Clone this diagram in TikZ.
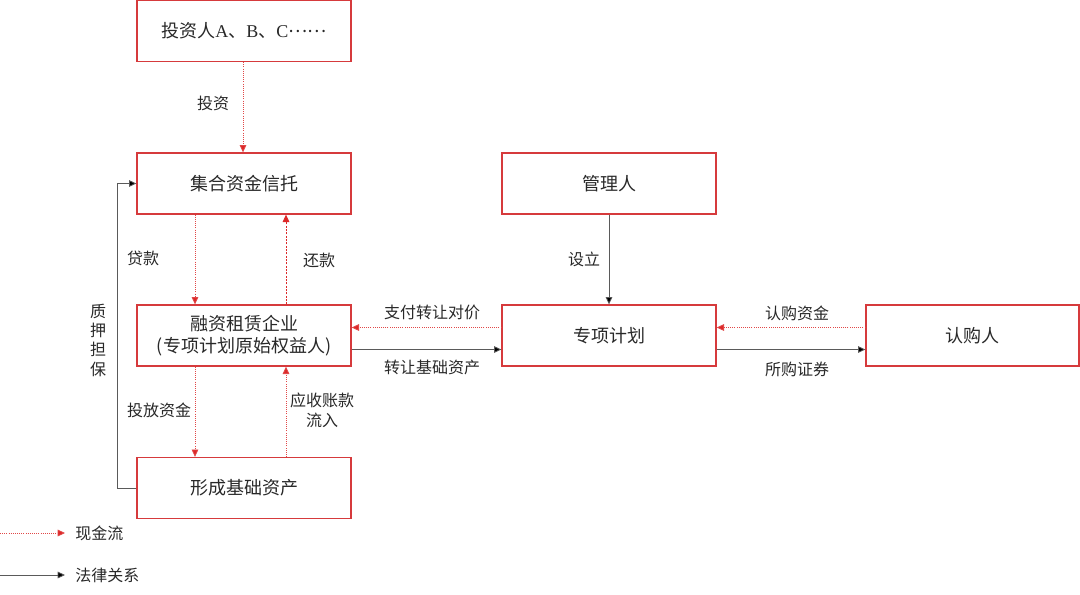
\documentclass[tikz,border=0pt]{standalone}
\usepackage{fontspec}
\setmainfont{Noto Sans CJK SC}
\newfontfamily\latinserif{Liberation Serif}
\usetikzlibrary{arrows.meta}
\definecolor{boxred}{RGB}{214,58,60}
\definecolor{flowred}{RGB}{220,40,40}
\definecolor{txt}{RGB}{40,40,40}
\definecolor{legal}{RGB}{90,90,90}
\tikzset{
  box/.style={draw=boxred, line width=1pt, minimum width=214*0.75pt, minimum height=61*0.75pt, inner sep=0pt, font=\fontsize{13.5}{17}\selectfont, text=txt, align=center},
  cash/.style={draw=flowred!85, line width=0.6pt, densely dotted, -{Triangle[length=5.5pt,width=5pt,fill=flowred]}},
  cashd/.style={draw=flowred, line width=0.6pt, dash pattern=on 1.5pt off 1pt, -{Triangle[length=5.5pt,width=5pt,fill=flowred]}},
  law/.style={draw=legal, line width=0.6pt, -{Triangle[length=5.5pt,width=5pt,fill=black]}},
  lbl/.style={font=\fontsize{12}{15}\selectfont, text=txt, align=center, inner sep=0pt}
}
\begin{document}
\begin{tikzpicture}[x=0.75pt,y=-0.75pt]
\useasboundingbox (0,0) rectangle (1080,594);
\node[box] (inv) at (244,31) {投资人{\latinserif A}、{\latinserif B}、{\latinserif C}\raisebox{0.3em}{……}};
\node[box] (trust) at (244,183.5) {集合资金信托};
\node[box] (lease) at (244,335.5) {融资租赁企业\\(专项计划原始权益人)};
\node[box] (asset) at (244,488) {形成基础资产};
\node[box] (mgr) at (609,183.5) {管理人};
\node[box] (plan) at (609,335.5) {专项计划};
\node[box, minimum width=213*0.75pt] (sub) at (972.5,335.5) {认购人};

% vertical flows
\draw[cash] (inv.south) ++(-1,0) coordinate (a1) -- (a1 |- trust.north);
\node[lbl] (l1) at (213,103) {投资};
\draw[cash] (trust.south) ++(-49,0) coordinate (a2) -- (a2 |- lease.north);
\node[lbl] (l2) at (143,258) {贷款};
\draw[cashd] (lease.north) ++(42,0) coordinate (a3) -- (a3 |- trust.south);
\node[lbl] (l3) at (319,260) {还款};
\draw[cash] (lease.south) ++(-49,0) coordinate (a4) -- (a4 |- asset.north);
\node[lbl] (l4) at (159,410) {投放资金};
\draw[cash] (asset.north) ++(42,0) coordinate (a5) -- (a5 |- lease.south);
\node[lbl] (l5) at (322,410) {应收账款\\流入};

% horizontal flows
\draw[cash] (plan.west) ++(0,-8) coordinate (b1) -- (b1 -| lease.east);
\node[lbl] (l6) at (432,312) {支付转让对价};
\draw[law] (lease.east) ++(0,14) coordinate (b2) -- (b2 -| plan.west);
\node[lbl] (l7) at (432,367) {转让基础资产};
\draw[law] (mgr.south) -- (plan.north);
\node[lbl] (l8) at (584,259) {设立};
\draw[cash] (sub.west) ++(0,-8) coordinate (b3) -- (b3 -| plan.east);
\node[lbl] (l9) at (797,313) {认购资金};
\draw[law] (plan.east) ++(0,14) coordinate (b4) -- (b4 -| sub.west);
\node[lbl] (l10) at (797,369) {所购证券};

% pledge loop
\coordinate (c1) at (117,488);
\coordinate (c2) at (117,183.5);
\draw[law] (asset.west) -- (c1) -- (c2) -- (trust.west);
\node[lbl, font=\fontsize{12}{14.5}\selectfont] (l11) at (98,340) {质\\押\\担\\保};

% legend
\coordinate (g1) at (0,533);
\coordinate (g2) at (65,533);
\draw[cash] (g1) -- (g2);
\node[lbl, anchor=west] (lg1) at (75,533) {现金流};
\coordinate (g3) at (0,575);
\coordinate (g4) at (65,575);
\draw[law] (g3) -- (g4);
\node[lbl, anchor=west] (lg2) at (75,575) {法律关系};
\end{tikzpicture}
\end{document}
